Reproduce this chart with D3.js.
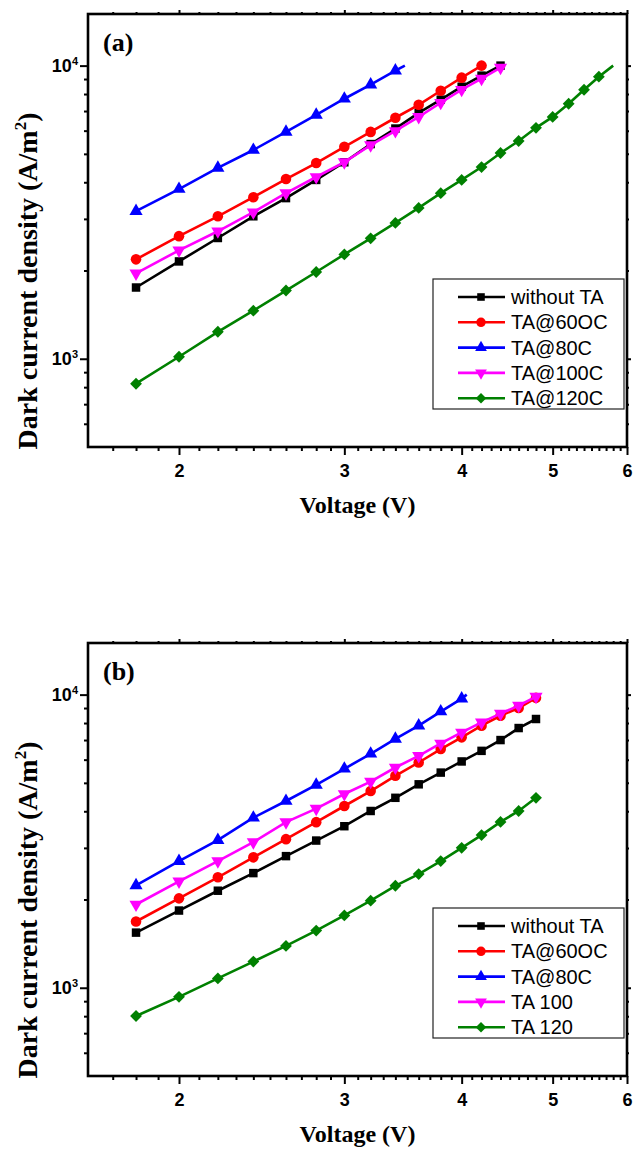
<!DOCTYPE html>
<html>
<head>
<meta charset="utf-8">
<script src="https://cdn.jsdelivr.net/npm/d3@7"></script>
<style>
body { margin: 0; background: #fff; }
</style>
</head>
<body>
<svg id="chart" width="634" height="1152"></svg>
<script>
// voltage steps shared by every curve (V)
var voltage = [1.8, 2.0, 2.2, 2.4, 2.6, 2.8, 3.0, 3.2, 3.4, 3.6, 3.8, 4.0, 4.2, 4.4, 4.6, 4.8, 5.0, 5.2, 5.4, 5.6];

var xMajor = [2, 3, 4, 5, 6];
var yMajor = [1000, 10000];
var yMinor = [600, 700, 800, 900, 2000, 3000, 4000, 5000, 6000, 7000, 8000, 9000];

// panel (a) dark current density (A/m2)
var a_without = [1750, 2148, 2582, 3062, 3532, 4074, 4680, 5400, 6100, 6903, 7652, 8472, 9243, 10000];
var a_ta60 = [2183, 2620, 3062, 3557, 4102, 4652, 5285, 5941, 6640, 7351, 8210, 9097, 10000];
var a_ta80 = [3187, 3793, 4477, 5155, 5941, 6792, 7710, 8607, 9613];
var a_ta100 = [1955, 2344, 2722, 3162, 3673, 4169, 4688, 5358, 5985, 6684, 7469, 8276, 9027, 9843];
var a_ta120 = [822, 1016, 1236, 1459, 1709, 1977, 2270, 2576, 2906, 3270, 3673, 4074, 4508, 5035, 5531, 6134, 6684, 7413, 8276, 9170];
// last line point without a symbol [V, J]
var a_ta80_tail = [3.48, 10000];
var a_ta120_tail = [5.8, 10000];

// panel (b)
var b_without = [1542, 1834, 2143, 2461, 2812, 3178, 3557, 4009, 4446, 4943, 5420, 5916, 6429, 6998, 7691, 8257];
var b_ta60 = [1683, 2018, 2381, 2785, 3213, 3672, 4169, 4688, 5284, 5867, 6521, 7148, 7833, 8472, 9003, 9750];
var b_ta80 = [2234, 2704, 3187, 3802, 4335, 4920, 5585, 6284, 7066, 7833, 8753, 9689];
var b_ta100 = [1923, 2306, 2704, 3139, 3673, 4083, 4581, 5050, 5641, 6183, 6814, 7430, 8041, 8610, 9170, 9843];
var b_ta120 = [801, 931, 1076, 1228, 1389, 1567, 1765, 1982, 2228, 2443, 2704, 3002, 3318, 3680, 4009, 4446];
var b_ta80_tail = [4.05, 10000];

var names_a = ["without TA", "TA@60OC", "TA@80C", "TA@100C", "TA@120C"];
var names_b = ["without TA", "TA@60OC", "TA@80C", "TA 100", "TA 120"];

var colors = ["#000000", "#ff0000", "#0000ff", "#ff00ff", "#008000"];

var svg = d3.select("#chart");

var L = 88, R = 627, PH = 433;

function marker(sel, i, cx, cy, k) {
	var sym, size, rot = 0;
	k = k || 1;
	switch (i) {
		case 0: sym = d3.symbolSquare; size = 72; break;
		case 1: sym = d3.symbolCircle; size = 88; break;
		case 2: sym = d3.symbolTriangle; size = 75; break;
		case 3: sym = d3.symbolTriangle; size = 75; rot = 180; break;
		default: sym = d3.symbolSquare; size = 70; rot = 45; break;
	}
	sel.append("path")
		.attr("d", d3.symbol(sym, size * k)())
		.attr("transform", "translate(" + cx + "," + cy + ") rotate(" + rot + ")")
		.attr("fill", colors[i]);
}

function drawPanel(top, label, names, series, tails) {
	var g = svg.append("g");
	var x = d3.scaleLog().domain([1.6, 6]).range([L, R]);
	var y = d3.scaleLog().domain([500, 15000]).range([top + PH, top]);

	var xMinor = d3.range(17, 60).map(function (d) { return d / 10; })
		.filter(function (d) { return xMajor.indexOf(d) < 0; });

	// bottom axis
	var bx = g.append("g").attr("transform", "translate(0," + (top + PH) + ")");
	bx.call(d3.axisBottom(x).tickValues(xMajor).tickFormat(d3.format("d"))
		.tickSize(8).tickSizeOuter(0).tickPadding(9));
	bx.append("g").call(d3.axisBottom(x).tickValues(xMinor).tickFormat("").tickSize(4).tickSizeOuter(0));
	// top axis
	var tx = g.append("g").attr("transform", "translate(0," + top + ")");
	tx.call(d3.axisTop(x).tickValues(xMajor).tickFormat("").tickSize(4).tickSizeOuter(0));
	tx.append("g").call(d3.axisTop(x).tickValues(xMinor).tickFormat("").tickSize(2).tickSizeOuter(0));

	// left axis
	var ly = g.append("g").attr("transform", "translate(" + L + ",0)");
	ly.call(d3.axisLeft(y).tickValues(yMajor).tickFormat("").tickSize(8).tickSizeOuter(0));
	ly.append("g").call(d3.axisLeft(y).tickValues(yMinor).tickFormat("").tickSize(4).tickSizeOuter(0));
	// right axis
	var ry = g.append("g").attr("transform", "translate(" + R + ",0)");
	ry.call(d3.axisRight(y).tickValues(yMajor).tickFormat("").tickSize(4).tickSizeOuter(0));
	ry.append("g").call(d3.axisRight(y).tickValues(yMinor).tickFormat("").tickSize(2).tickSizeOuter(0));

	g.selectAll(".domain").remove();
	g.selectAll(".tick line").attr("stroke", "#000").attr("stroke-width", 2);
	bx.selectAll("text")
		.attr("fill", "#000")
		.style("font-family", "'Liberation Sans', Arial, sans-serif")
		.style("font-weight", "bold")
		.style("font-size", "18px");

	// y tick labels 10^n
	yMajor.forEach(function (v) {
		var t = g.append("text")
			.attr("x", L - 10)
			.attr("y", y(v) + 6)
			.attr("text-anchor", "end")
			.style("font-family", "'Liberation Sans', Arial, sans-serif")
			.style("font-weight", "bold")
			.style("font-size", "18px");
		t.append("tspan").text("10");
		t.append("tspan").attr("dy", -7).style("font-size", "11px").text(Math.round(Math.log10(v)));
	});

	// curves
	series.forEach(function (vals, i) {
		var pts = vals.map(function (v, k) { return [voltage[k], v]; });
		var line = pts.slice();
		if (tails[i]) line.push(tails[i]);
		g.append("path")
			.datum(line)
			.attr("fill", "none")
			.attr("stroke", colors[i])
			.attr("stroke-width", 2.6)
			.attr("d", d3.line().x(function (d) { return x(d[0]); }).y(function (d) { return y(d[1]); }));
		pts.forEach(function (p) { marker(g, i, x(p[0]), y(p[1])); });
	});

	// frame
	g.append("rect")
		.attr("x", L).attr("y", top)
		.attr("width", R - L).attr("height", PH)
		.attr("fill", "none").attr("stroke", "#000").attr("stroke-width", 2.6);

	// legend
	var lg = g.append("g");
	lg.append("rect")
		.attr("x", 433).attr("y", top + 265)
		.attr("width", 191).attr("height", 130)
		.attr("fill", "#fff").attr("stroke", "#222").attr("stroke-width", 1.2);
	names.forEach(function (n, i) {
		var ry0 = top + 283 + i * 25.3;
		lg.append("line")
			.attr("x1", 458).attr("x2", 505)
			.attr("y1", ry0).attr("y2", ry0)
			.attr("stroke", colors[i]).attr("stroke-width", 2.6);
		marker(lg, i, 481, ry0, 0.8);
		lg.append("text")
			.attr("x", 511).attr("y", ry0 + 7)
			.style("font-family", "'Liberation Sans', Arial, sans-serif")
			.style("font-size", "20px")
			.text(n);
	});

	// panel label
	g.append("text")
		.attr("x", 103).attr("y", top + 37)
		.style("font-family", "'Liberation Serif', 'Times New Roman', serif")
		.style("font-weight", "bold")
		.style("font-size", "26px")
		.text(label);

	// axis titles
	g.append("text")
		.attr("x", (L + R) / 2).attr("y", top + 499)
		.attr("text-anchor", "middle")
		.style("font-family", "'Liberation Serif', 'Times New Roman', serif")
		.style("font-weight", "bold")
		.style("font-size", "24px")
		.text("Voltage (V)");

	var yt = g.append("text")
		.attr("transform", "translate(37," + (top + 267) + ") rotate(-90)")
		.attr("text-anchor", "middle")
		.style("font-family", "'Liberation Serif', 'Times New Roman', serif")
		.style("font-weight", "bold")
		.style("font-size", "28px");
	yt.append("tspan").text("Dark current density (A/m");
	yt.append("tspan").attr("dy", -11).style("font-size", "17px").text("2");
	yt.append("tspan").attr("dy", 11).text(")");
}

drawPanel(14, "(a)", names_a,
	[a_without, a_ta60, a_ta80, a_ta100, a_ta120],
	[null, null, a_ta80_tail, null, a_ta120_tail]);

drawPanel(643, "(b)", names_b,
	[b_without, b_ta60, b_ta80, b_ta100, b_ta120],
	[null, null, b_ta80_tail, null, null]);
</script>
</body>
</html>
